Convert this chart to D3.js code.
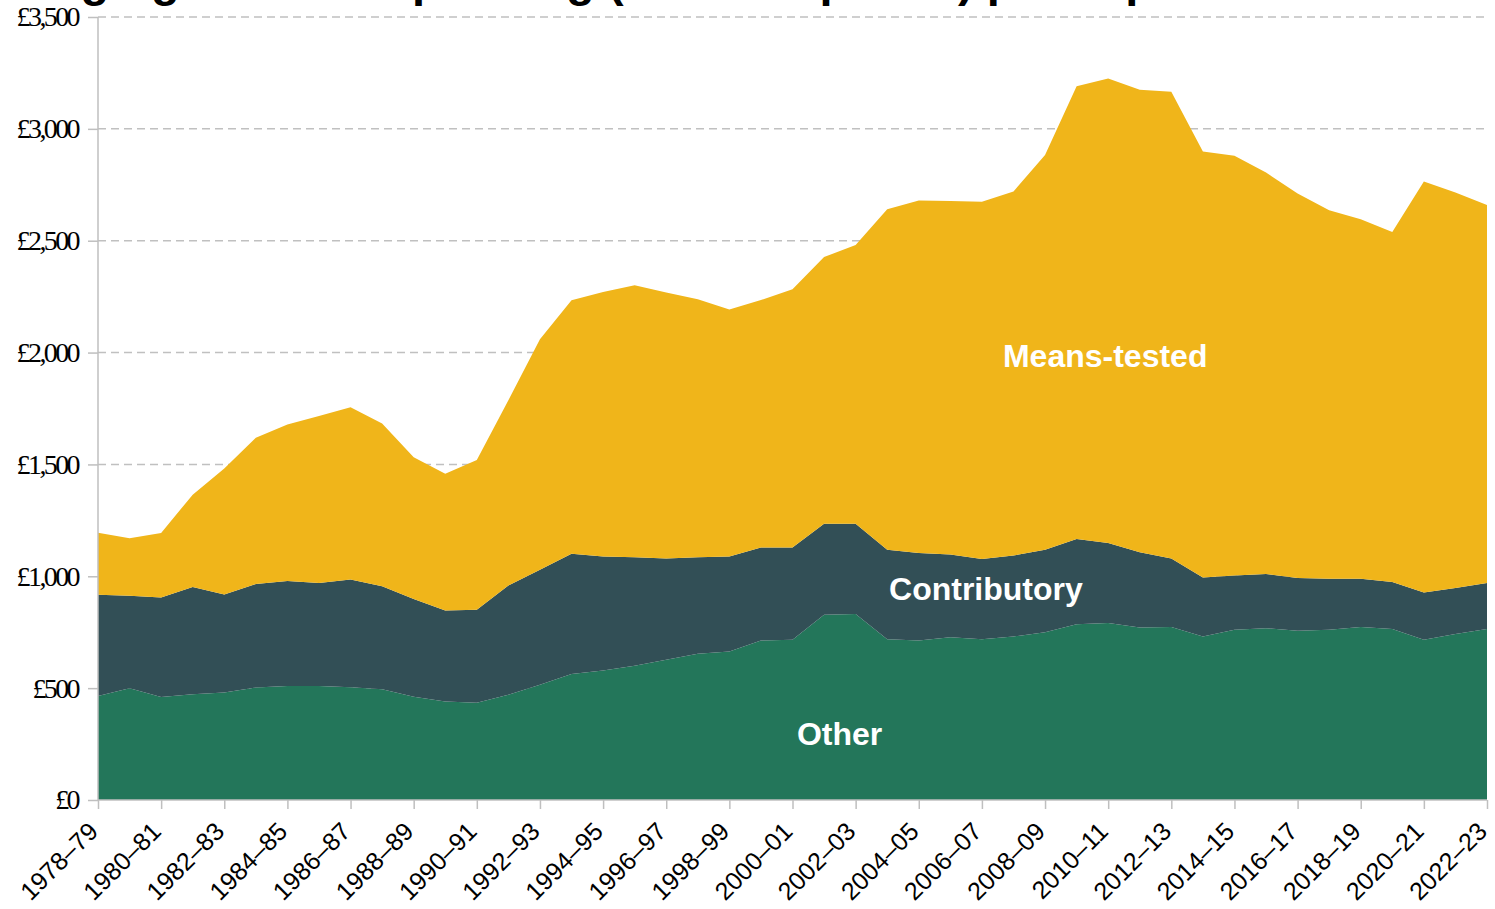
<!DOCTYPE html>
<html>
<head>
<meta charset="utf-8">
<script src="https://cdn.jsdelivr.net/npm/d3@7"></script>
<style>
  html, body { margin: 0; padding: 0; background: #fff; overflow: hidden; }
  svg { display: block; }
</style>
</head>
<body>
<div id="chart"></div>
<script>
// financial years on the x axis
var years = ["1978–79","1979–80","1980–81","1981–82","1982–83","1983–84","1984–85","1985–86",
  "1986–87","1987–88","1988–89","1989–90","1990–91","1991–92","1992–93","1993–94","1994–95",
  "1995–96","1996–97","1997–98","1998–99","1999–00","2000–01","2001–02","2002–03","2003–04",
  "2004–05","2005–06","2006–07","2007–08","2008–09","2009–10","2010–11","2011–12","2012–13",
  "2013–14","2014–15","2015–16","2016–17","2017–18","2018–19","2019–20","2020–21","2021–22","2022–23"];

// spending per capita, £ (2023–24 prices)
var other = [465,500,460,473,480,503,510,510,504,495,462,440,435,470,515,563,579,600,627,654,
  664,713,716,828,831,719,713,728,719,731,750,786,791,771,773,731,761,768,756,761,773,764,716,742,764];
var contributory = [453,413,445,479,439,462,469,460,482,461,436,407,415,489,514,538,510,485,453,431,
  425,416,413,407,404,400,391,369,358,362,369,381,358,336,306,264,242,242,236,228,216,210,212,206,206];
var meansTested = [277,257,289,413,563,654,699,746,770,727,634,611,670,828,1030,1133,1182,1216,1188,1153,
  1104,1106,1154,1192,1246,1522,1576,1580,1597,1627,1764,2023,2076,2068,2087,1904,1877,1795,1719,1647,1607,1565,1837,1768,1690];

var seriesNames = ["Other", "Contributory", "Means-tested"];
var seriesColors = ["#23765a", "#324f56", "#f0b51a"];

var yTicks = [0, 500, 1000, 1500, 2000, 2500, 3000, 3500];
var yTickLabels = ["£0", "£500", "£1,000", "£1,500", "£2,000", "£2,500", "£3,000", "£3,500"];

function drawChart() {
  var width = 1495, height = 909;
  var plotLeft = 98, plotRight = 1487, plotTop = 17, plotBottom = 800;

  var rows = years.map(function (yr, i) {
    return { year: yr, "Other": other[i], "Contributory": contributory[i], "Means-tested": meansTested[i] };
  });

  var svg = d3.select("#chart").append("svg")
    .attr("width", width)
    .attr("height", height);

  var x = d3.scalePoint().domain(years).range([plotLeft, plotRight]);
  var y = d3.scaleLinear().domain([0, 3500]).range([plotBottom, plotTop]);

  // gridlines (behind areas)
  svg.append("g").selectAll("line")
    .data(yTicks.filter(function (d) { return d > 0; }))
    .enter().append("line")
      .attr("x1", plotLeft).attr("x2", plotRight)
      .attr("y1", function (d) { return y(d); })
      .attr("y2", function (d) { return y(d); })
      .attr("stroke", "#c0c0c0")
      .attr("stroke-width", 1.5)
      .attr("stroke-dasharray", "8,5");

  var stacked = d3.stack().keys(seriesNames)(rows);

  var area = d3.area()
    .x(function (d) { return x(d.data.year); })
    .y0(function (d) { return y(d[0]); })
    .y1(function (d) { return y(d[1]); });

  svg.append("g").selectAll("path")
    .data(stacked)
    .enter().append("path")
      .attr("d", area)
      .attr("fill", function (d, i) { return seriesColors[i]; });

  // y axis
  var yAxis = d3.axisLeft(y)
    .tickValues(yTicks)
    .tickSize(10)
    .tickPadding(10)
    .tickFormat(function (d, i) { return yTickLabels[i]; });

  var gy = svg.append("g")
    .attr("transform", "translate(" + plotLeft + ",0)")
    .call(yAxis);
  gy.selectAll("path, line").attr("stroke", "#bfbfbf").attr("stroke-width", 1.5);
  gy.select(".domain").attr("d", "M0," + plotTop + "V" + plotBottom);
  gy.selectAll("text")
    .attr("font-family", "'Liberation Serif', 'DejaVu Serif', serif")
    .attr("font-size", 28)
    .attr("letter-spacing", "-2.6px")
    .attr("fill", "#000");

  // x axis, every second year labelled
  var xAxis = d3.axisBottom(x)
    .tickValues(years.filter(function (d, i) { return i % 2 === 0; }))
    .tickSize(9);

  var gx = svg.append("g")
    .attr("transform", "translate(0," + plotBottom + ")")
    .call(xAxis);
  gx.selectAll("path, line").attr("stroke", "#bfbfbf").attr("stroke-width", 1.5);
  gx.select(".domain").attr("d", "M" + plotLeft + ",0H" + plotRight);
  gx.selectAll("text")
    .attr("font-family", "'Liberation Sans', Arial, sans-serif")
    .attr("font-size", 25)
    .attr("fill", "#000")
    .attr("text-anchor", "end")
    .attr("dy", 0)
    .attr("y", 0)
    .attr("transform", "translate(1,33) rotate(-45)");

  // series labels inside the areas
  var labels = [
    { text: "Other", year: "2002–03", value: 245, dx: -16 },
    { text: "Contributory", year: "2006–07", value: 895, dx: 4 },
    { text: "Means-tested", year: "2010–11", value: 1935, dx: -3 }
  ];
  svg.append("g").selectAll("text")
    .data(labels)
    .enter().append("text")
      .attr("x", function (d) { return x(d.year) + d.dx; })
      .attr("y", function (d) { return y(d.value); })
      .attr("text-anchor", "middle")
      .attr("font-family", "'Liberation Sans', Arial, sans-serif")
      .attr("font-weight", "bold")
      .attr("font-size", 32)
      .attr("fill", "#fff")
      .text(function (d) { return d.text; });

  // title, cropped off the top edge in the original
  svg.append("text")
    .attr("x", -78)
    .attr("y", -4)
    .attr("font-family", "'Liberation Sans', Arial, sans-serif")
    .attr("font-weight", "bold")
    .attr("font-size", 47)
    .attr("fill", "#000")
    .text("Working-age benefit spending (2023–24 prices) per capita");
}

drawChart();
</script>
</body>
</html>
